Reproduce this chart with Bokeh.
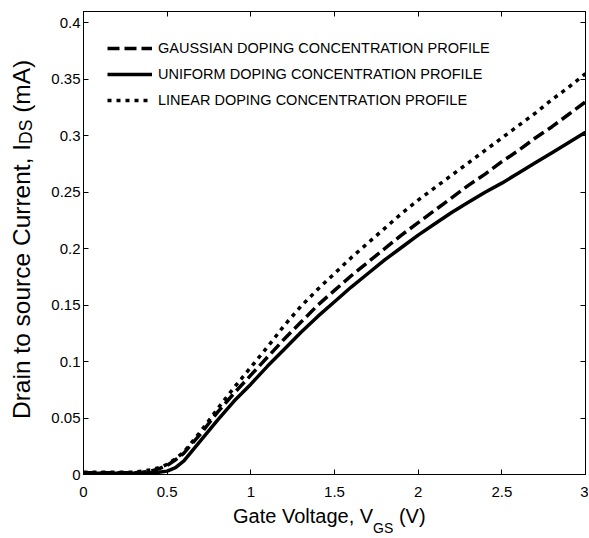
from bokeh.plotting import figure
from bokeh.models import Range1d, LinearAxis, Legend, LegendItem, FixedTicker, Div
from bokeh.layouts import row, column
from bokeh.embed import file_html
from bokeh.resources import INLINE

# ---------------- data ----------------
vgs = [0, 0.1, 0.2, 0.3, 0.35, 0.4, 0.45, 0.5, 0.55, 0.6, 0.7, 0.8, 0.9, 1.0,
       1.1, 1.2, 1.3, 1.4, 1.5, 1.6, 1.7, 1.8, 1.9, 2.0, 2.1, 2.2, 2.3, 2.4,
       2.5, 2.6, 2.7, 2.8, 2.9, 3.0]
i_gaussian = [0.0015, 0.0015, 0.0015, 0.0015, 0.002, 0.003, 0.005, 0.008, 0.013,
              0.019, 0.036, 0.055, 0.072, 0.088, 0.104, 0.120, 0.135, 0.150,
              0.163, 0.176, 0.188, 0.200, 0.212, 0.223, 0.234, 0.245, 0.256,
              0.266, 0.277, 0.287, 0.298, 0.308, 0.319, 0.330]
i_uniform = [0.001, 0.001, 0.001, 0.001, 0.0012, 0.0015, 0.002, 0.003, 0.006,
             0.012, 0.030, 0.048, 0.065, 0.080, 0.096, 0.111, 0.126, 0.140,
             0.153, 0.166, 0.178, 0.190, 0.201, 0.212, 0.222, 0.232, 0.241,
             0.250, 0.258, 0.267, 0.276, 0.285, 0.294, 0.303]
i_linear = [0.002, 0.002, 0.002, 0.002, 0.003, 0.004, 0.006, 0.009, 0.014,
            0.020, 0.038, 0.058, 0.077, 0.095, 0.113, 0.132, 0.149, 0.164,
            0.178, 0.192, 0.205, 0.218, 0.231, 0.243, 0.254, 0.265, 0.276,
            0.287, 0.298, 0.309, 0.320, 0.332, 0.343, 0.355]

x_ticks = [0, 0.5, 1, 1.5, 2, 2.5, 3]
x_tick_labels = ["0", "0.5", "1", "1.5", "2", "2.5", "3"]
y_ticks = [0, 0.05, 0.1, 0.15, 0.2, 0.25, 0.3, 0.35, 0.4]
y_tick_labels = ["0", "0.05", "0.1", "0.15", "0.2", "0.25", "0.3", "0.35", "0.4"]

legend_labels = ["GAUSSIAN DOPING CONCENTRATION PROFILE",
                 "UNIFORM DOPING CONCENTRATION PROFILE",
                 "LINEAR DOPING CONCENTRATION PROFILE"]
x_label_parts = ["Gate Voltage, V", "GS", "(V)"]
y_label_parts = ["Drain to source Current, I", "DS", "(mA)"]

FONT = "Liberation Sans"

# ---------------- geometry ----------------
TOTAL_W, TOTAL_H = 588, 537
YDIV_W = 40
XDIV_H = 34
PW, PH = TOTAL_W - YDIV_W, TOTAL_H - XDIV_H

p = figure(width=PW, height=PH, x_range=Range1d(0, 3), y_range=Range1d(0, 0.41),
           output_backend="svg", toolbar_location=None,
           min_border_left=43, min_border_right=3, min_border_top=11,
           min_border_bottom=29)
p.grid.visible = False
p.outline_line_color = "black"
p.outline_line_width = 1
p.background_fill_color = "white"
p.border_fill_color = "white"

for ax, ticks, labels in ((p.xaxis[0], x_ticks, x_tick_labels),
                          (p.yaxis[0], y_ticks, y_tick_labels)):
    ax.ticker = FixedTicker(ticks=ticks)
    ax.major_label_overrides = {t: l for t, l in zip(ticks, labels)}
    ax.major_tick_in = 5
    ax.major_tick_out = 0
    ax.minor_tick_line_color = None
    ax.axis_line_color = "black"
    ax.major_tick_line_color = "black"
    ax.major_label_text_font = FONT
    ax.major_label_text_font_size = "15px"
    ax.major_label_text_color = "black"
p.xaxis.major_label_standoff = 12
p.yaxis.major_label_standoff = 3

top_axis = LinearAxis(ticker=FixedTicker(ticks=x_ticks))
right_axis = LinearAxis(ticker=FixedTicker(ticks=y_ticks))
for ax in (top_axis, right_axis):
    ax.major_tick_in = 5
    ax.major_tick_out = 0
    ax.minor_tick_line_color = None
    ax.major_label_text_color = None
    ax.major_label_text_font_size = "1px"
    ax.major_label_standoff = 0
    ax.axis_line_color = "black"
    ax.major_tick_line_color = "black"
p.add_layout(top_axis, "above")
p.add_layout(right_axis, "right")

r_g = p.line(vgs, i_gaussian, line_color="black", line_width=3.5, line_dash="12 5")
r_u = p.line(vgs, i_uniform, line_color="black", line_width=3.5)
r_l = p.line(vgs, i_linear, line_color="black", line_width=3.5, line_dash="4 5")

legend = Legend(items=[LegendItem(label=legend_labels[0], renderers=[r_g]),
                       LegendItem(label=legend_labels[1], renderers=[r_u]),
                       LegendItem(label=legend_labels[2], renderers=[r_l])],
                location="top_left", border_line_color=None,
                background_fill_alpha=0, margin=24, padding=0, spacing=0,
                glyph_width=45, glyph_height=26, label_height=26,
                label_standoff=6, label_text_font=FONT,
                label_text_font_size="14.5px", label_text_color="black")
p.add_layout(legend)

# ---------------- axis titles (HTML, with subscripts) ----------------
x_html = (
    f'<div style="font-family:\'{FONT}\',Arial,sans-serif;font-size:20px;'
    f'line-height:20px;color:black;white-space:nowrap;padding-top:3px;'
    f'padding-left:193px;">{x_label_parts[0]}'
    f'<span style="font-size:14px;position:relative;top:9.6px;">{x_label_parts[1]}</span>'
    f' {x_label_parts[2]}</div>'
)
xdiv = Div(text=x_html, width=PW, height=XDIV_H, margin=0)

y_html = (
    f'<div style="box-sizing:border-box;font-family:\'{FONT}\',Arial,sans-serif;'
    f'font-size:24.5px;line-height:24.5px;color:black;white-space:nowrap;'
    f'writing-mode:vertical-rl;transform:rotate(180deg);width:{YDIV_W}px;'
    f'height:{TOTAL_H}px;padding-top:118px;padding-right:10px;">{y_label_parts[0]}'
    f'<span style="font-size:17.5px;position:relative;left:-4px;">{y_label_parts[1]}</span>'
    f' {y_label_parts[2]}</div>'
)
ydiv = Div(text=y_html, width=YDIV_W, height=TOTAL_H, margin=0)

layout = row(ydiv, column(p, xdiv, spacing=0), spacing=0)

open("out.html", "w").write(file_html(layout, INLINE))
